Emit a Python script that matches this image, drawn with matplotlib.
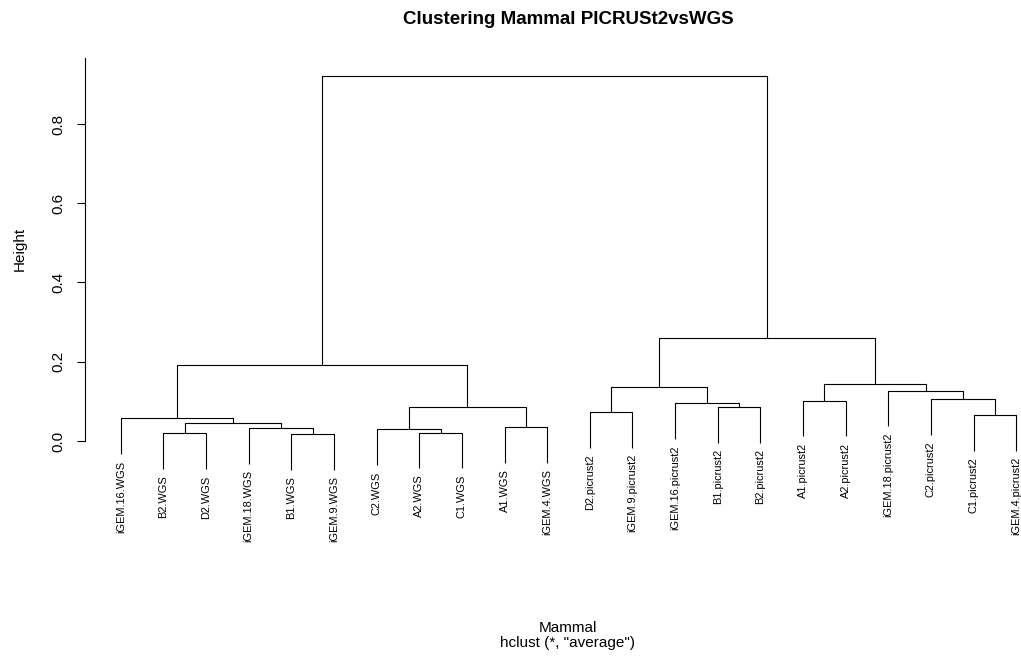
import matplotlib
matplotlib.use("Agg")
import matplotlib.pyplot as plt

plt.rcParams['font.family'] = ['Liberation Sans', 'DejaVu Sans']

# leaf labels in plotting order (left to right)
labels = ['iGEM.16.WGS', 'B2.WGS', 'D2.WGS', 'iGEM.18.WGS', 'B1.WGS', 'iGEM.9.WGS',
          'C2.WGS', 'A2.WGS', 'C1.WGS', 'A1.WGS', 'iGEM.4.WGS',
          'D2.picrust2', 'iGEM.9.picrust2', 'iGEM.16.picrust2', 'B1.picrust2',
          'B2.picrust2', 'A1.picrust2', 'A2.picrust2', 'iGEM.18.picrust2',
          'C2.picrust2', 'C1.picrust2', 'iGEM.4.picrust2']

# merges, R hclust style: negative = leaf (1-based, in labels), positive = earlier merge
merge_left = [-5, -2, -8, -4, -7, -10, 2, -1, -21, -12, -15, 5, -14, -17, -20, -19, 10, 14, 8, 17, 19]
merge_right = [-6, -3, -9, 1, 3, -11, 4, 7, -22, -13, -16, 6, 11, -18, 9, 15, 13, 16, 12, 18, 20]
heights = [0.0168, 0.0193, 0.021, 0.032, 0.0295, 0.036, 0.0446, 0.057, 0.066, 0.073,
           0.0858, 0.0866, 0.095, 0.102, 0.105, 0.127, 0.137, 0.144, 0.191, 0.259, 0.920]

n = len(labels)
hang = 0.1 * (max(heights) - min(heights))

fig = plt.figure(figsize=(10.21, 6.58), dpi=100)
W, H = 1021, 658
# plot region in pixels (R's usr goes past the right edge of the image)
left_px, right_px = 85, 1052
top_px = 58.3
y0_px, unit_px = 441.0, 396.25  # pixel of height 0, pixels per unit height
ytop = (y0_px - top_px) / unit_px
ybot = -0.30
bot_px = y0_px - ybot * unit_px
ax = fig.add_axes([left_px / W, 1 - bot_px / H, (right_px - left_px) / W, (bot_px - top_px) / H])
ax.set_xlim(1 - 0.04 * (n - 1), n + 0.04 * (n - 1))
ax.set_ylim(ybot, ytop)


def node_pos(k):
    if k < 0:
        return float(-k)
    return xs[k - 1]


xs = []
for l, r, h in zip(merge_left, merge_right, heights):
    xl, xr = node_pos(l), node_pos(r)
    yl = heights[l - 1] if l > 0 else h - hang
    yr = heights[r - 1] if r > 0 else h - hang
    ax.plot([xl, xl, xr, xr], [yl, h, h, yr], color='black', lw=0.8, solid_capstyle='butt')
    xs.append((xl + xr) / 2)
    for k, yy in ((l, yl), (r, yr)):
        if k < 0:
            ax.annotate(labels[-k - 1], (float(-k), yy), xytext=(0, -4.5),
                        textcoords='offset points', rotation=90, ha='center', va='top',
                        fontsize=7.9)

for s in ['top', 'right', 'bottom']:
    ax.spines[s].set_visible(False)
ax.spines['left'].set_bounds(0, ytop)
ax.spines['left'].set_linewidth(0.8)
ax.set_xticks([])
ax.set_yticks([0.0, 0.2, 0.4, 0.6, 0.8])
ax.set_yticklabels(['0.0', '0.2', '0.4', '0.6', '0.8'], rotation=90, va='center')
ax.tick_params(axis='y', length=6, width=0.8, labelsize=11, pad=8)

fig.text(20 / W, 1 - 249 / H, 'Height', rotation=90, ha='center', va='center', fontsize=11)
fig.text(568 / W, 1 - 20 / H, 'Clustering Mammal PICRUSt2vsWGS', ha='center', va='center',
         fontsize=13.5, fontweight='bold')
fig.text(568 / W, 1 - 628 / H, 'Mammal', ha='center', va='center', fontsize=11)
fig.text(568 / W, 1 - 643.5 / H, 'hclust (*, "average")', ha='center', va='center', fontsize=11)

fig.savefig('out.png', dpi=100)
